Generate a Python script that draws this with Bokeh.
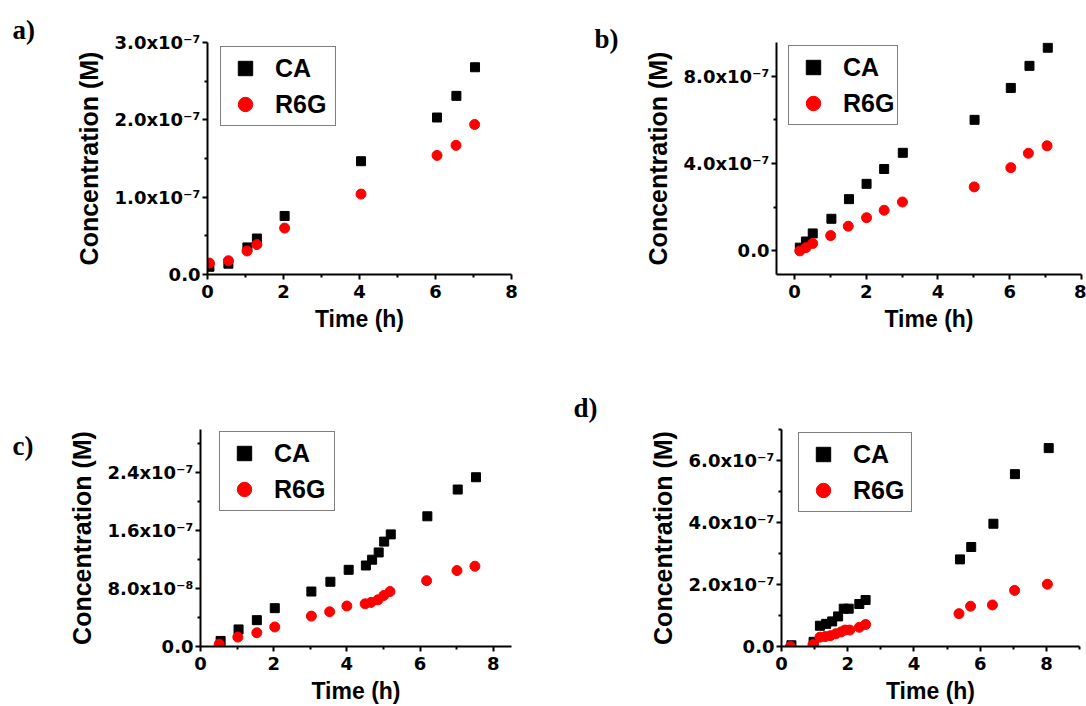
from bokeh.plotting import figure
from bokeh.layouts import column, row
from bokeh.models import (Range1d, FixedTicker, CustomJSTickFormatter, Legend,
                          LegendItem, Title)
from bokeh.embed import file_html
from bokeh.resources import INLINE

# ---------------- data ----------------
a_ca_t = [0.05, 0.55, 1.05, 1.30, 2.03, 4.04, 6.04, 6.55, 7.04]
a_ca = [1.0e-8, 1.4e-8, 3.5e-8, 4.65e-8, 7.57e-8, 1.465e-7, 2.03e-7, 2.31e-7, 2.68e-7]
a_r6g_t = [0.05, 0.55, 1.04, 1.30, 2.03, 4.04, 6.04, 6.54, 7.03]
a_r6g = [1.48e-8, 1.78e-8, 3.04e-8, 3.87e-8, 6.0e-8, 1.04e-7, 1.54e-7, 1.67e-7, 1.94e-7]

b_ca_t = [0.15, 0.32, 0.51, 1.03, 1.52, 2.01, 2.50, 3.02, 5.02, 6.03, 6.55, 7.06]
b_ca = [1.5e-8, 4.3e-8, 8.0e-8, 1.47e-7, 2.37e-7, 3.07e-7, 3.75e-7, 4.49e-7,
        6.0e-7, 7.46e-7, 8.47e-7, 9.3e-7]
b_r6g_t = [0.15, 0.32, 0.51, 1.01, 1.50, 2.01, 2.50, 3.01, 5.01, 6.03, 6.52, 7.04]
b_r6g = [0.0, 1.5e-8, 3.4e-8, 7.0e-8, 1.13e-7, 1.52e-7, 1.86e-7, 2.24e-7,
         2.93e-7, 3.81e-7, 4.47e-7, 4.81e-7]

c_ca_t = [0.55, 1.04, 1.54, 2.03, 3.03, 3.55, 4.05, 4.52, 4.69, 4.87, 5.02, 5.20,
          6.20, 7.03, 7.53]
c_ca = [7.7e-9, 2.36e-8, 3.64e-8, 5.3e-8, 7.6e-8, 8.95e-8, 1.06e-7, 1.12e-7,
        1.20e-7, 1.30e-7, 1.45e-7, 1.55e-7, 1.80e-7, 2.17e-7, 2.34e-7]
c_r6g_t = [0.51, 1.02, 1.54, 2.03, 3.03, 3.53, 4.00, 4.50, 4.66, 4.85, 5.01, 5.18,
           6.18, 7.01, 7.50]
c_r6g = [3.2e-9, 1.3e-8, 1.9e-8, 2.7e-8, 4.2e-8, 4.8e-8, 5.6e-8, 5.9e-8, 6.1e-8,
         6.45e-8, 7.05e-8, 7.6e-8, 9.1e-8, 1.05e-7, 1.11e-7]

d_ca_t = [0.30, 0.97, 1.16, 1.35, 1.53, 1.71, 1.88, 2.03, 2.35, 2.54, 5.39, 5.73,
          6.40, 7.05, 8.07]
d_ca = [4e-9, 1.5e-8, 6.7e-8, 7.3e-8, 8.1e-8, 9.7e-8, 1.22e-7, 1.22e-7, 1.37e-7,
        1.50e-7, 2.81e-7, 3.21e-7, 3.96e-7, 5.56e-7, 6.40e-7]
d_r6g_t = [0.27, 0.95, 1.16, 1.32, 1.48, 1.64, 1.80, 1.92, 2.06, 2.35, 2.54, 5.36,
           5.71, 6.37, 7.04, 8.03]
d_r6g = [0.0, 6e-9, 3.0e-8, 3.2e-8, 3.5e-8, 4.1e-8, 4.7e-8, 5.3e-8, 5.3e-8, 6.2e-8,
         7.1e-8, 1.06e-7, 1.30e-7, 1.34e-7, 1.81e-7, 2.01e-7]

series_labels = ["CA", "R6G"]
panel_labels = ["a)", "b)", "c)", "d)"]
x_axis_title = "Time (h)"
y_axis_title = "Concentration (M)"

a_xticks, a_xminor = [0, 2, 4, 6, 8], [1, 3, 5, 7]
a_yticks, a_yminor = [0, 1e-7, 2e-7, 3e-7], [5e-8, 1.5e-7, 2.5e-7]
b_xticks, b_xminor = [0, 2, 4, 6, 8], [1, 3, 5, 7]
b_yticks, b_yminor = [0, 4e-7, 8e-7], [2e-7, 6e-7]
c_xticks, c_xminor = [0, 2, 4, 6, 8], [1, 3, 5, 7]
c_yticks, c_yminor = [0, 8e-8, 1.6e-7, 2.4e-7], [4e-8, 1.2e-7, 2.0e-7, 2.8e-7]
d_xticks, d_xminor = [0, 2, 4, 6, 8], [1, 3, 5, 7, 9]
d_yticks, d_yminor = [0, 2e-7, 4e-7, 6e-7], [1e-7, 3e-7, 5e-7, 7e-7]

SCI = CustomJSTickFormatter(code="""
if (Math.abs(tick) < 1e-15) { return "0.0"; }
const e = Math.floor(Math.log10(Math.abs(tick)) + 1e-6);
const m = tick / Math.pow(10, e);
const sup = {"-": "\\u207B", "0": "\\u2070", "1": "\\u00B9", "2": "\\u00B2", "3": "\\u00B3",
             "4": "\\u2074", "5": "\\u2075", "6": "\\u2076", "7": "\\u2077", "8": "\\u2078", "9": "\\u2079"};
return m.toFixed(1) + "x10" + String(e).split("").map(c => sup[c]).join("");
""")


def panel(w, h, bl, br, bt, bb, xr, yr, xt, xm, yt, ym,
          ca_t, ca, r_t, r, label, lab_off, lab_standoff, leg_xy, leg_lw):
    p = figure(width=w, height=h, min_border_left=bl, min_border_right=br,
               min_border_top=bt, min_border_bottom=bb,
               x_range=Range1d(*xr), y_range=Range1d(*yr),
               output_backend="svg", toolbar_location=None, title=None)
    p.outline_line_color = None
    p.xgrid.visible = False
    p.ygrid.visible = False
    p.background_fill_color = "white"
    p.border_fill_color = "white"

    p.xaxis.ticker = FixedTicker(ticks=xt, minor_ticks=xm)
    p.yaxis.ticker = FixedTicker(ticks=yt, minor_ticks=ym)
    p.yaxis.formatter = SCI
    for ax in (p.xaxis[0], p.yaxis[0]):
        ax.axis_line_width = 2
        ax.major_tick_line_width = 2
        ax.minor_tick_line_width = 2
        ax.major_tick_out = 5
        ax.major_tick_in = 0
        ax.minor_tick_out = 3
        ax.minor_tick_in = 0
        ax.major_label_text_font = "DejaVu Sans"
        ax.major_label_text_font_style = "bold"
        ax.major_label_text_font_size = "18px"
        ax.major_label_text_color = "black"
        ax.axis_label_text_font = "Liberation Sans"
        ax.axis_label_text_font_style = "bold"
        ax.axis_label_text_color = "black"
    p.xaxis.axis_label = x_axis_title
    p.xaxis.axis_label_text_font_size = "23px"
    p.xaxis.major_label_standoff = 5
    p.xaxis.axis_label_standoff = 5
    p.yaxis.axis_label = y_axis_title
    p.yaxis.axis_label_text_font_size = "25px"
    p.yaxis.major_label_standoff = 2
    p.yaxis.axis_label_standoff = 9

    r1 = p.scatter(ca_t, ca, marker="square", size=9, color="black")
    r2 = p.scatter(r_t, r, marker="circle", size=10, color="red")

    leg = Legend(items=[LegendItem(label=series_labels[0], renderers=[r1]),
                        LegendItem(label=series_labels[1], renderers=[r2])],
                 location=leg_xy, orientation="vertical",
                 border_line_color="black", border_line_width=1.5,
                 background_fill_color="white", background_fill_alpha=1.0,
                 padding=3, spacing=0, margin=0,
                 glyph_width=42, glyph_height=36, label_standoff=9, label_width=leg_lw,
                 label_height=20,
                 label_text_font="Liberation Sans", label_text_font_style="bold",
                 label_text_font_size="25px", label_text_color="black",
                 label_text_baseline="middle")
    p.add_layout(leg)

    t = Title(text=label, align="left", offset=lab_off, standoff=lab_standoff,
              text_font="Liberation Serif", text_font_style="bold",
              text_font_size="27px", text_color="black")
    p.add_layout(t, "above")
    return p


pa = panel(540, 355, 207, 29, 42, 81, (0, 8), (0, 3.0e-7),
           a_xticks, a_xminor, a_yticks, a_yminor,
           a_ca_t, a_ca, a_r6g_t, a_r6g, panel_labels[0], -195, -4, (13, 148), 57)
pb = panel(546, 355, 236, 5, 42, 81, (-0.5, 8), (-1.08e-7, 9.54e-7),
           b_xticks, b_xminor, b_yticks, b_yminor,
           b_ca_t, b_ca, b_r6g_t, b_r6g, panel_labels[1], -182, -22, (12, 149), 50)
pc = panel(540, 351, 200, 29, 72, 59, (0, 8.5), (0, 3.0e-7),
           c_xticks, c_xminor, c_yticks, c_yminor,
           c_ca_t, c_ca, c_r6g_t, c_r6g, panel_labels[2], -188, -62, (19, 135), 57)
pd = panel(546, 351, 241, 7, 74, 57, (0, 9), (0, 7.0e-7),
           d_xticks, d_xminor, d_yticks, d_yminor,
           d_ca_t, d_ca, d_r6g_t, d_r6g, panel_labels[3], -208, 14, (17, 134), 55)

layout = column(row(pa, pb, spacing=0), row(pc, pd, spacing=0), spacing=0)
open("out.html", "w").write(file_html(layout, INLINE))
